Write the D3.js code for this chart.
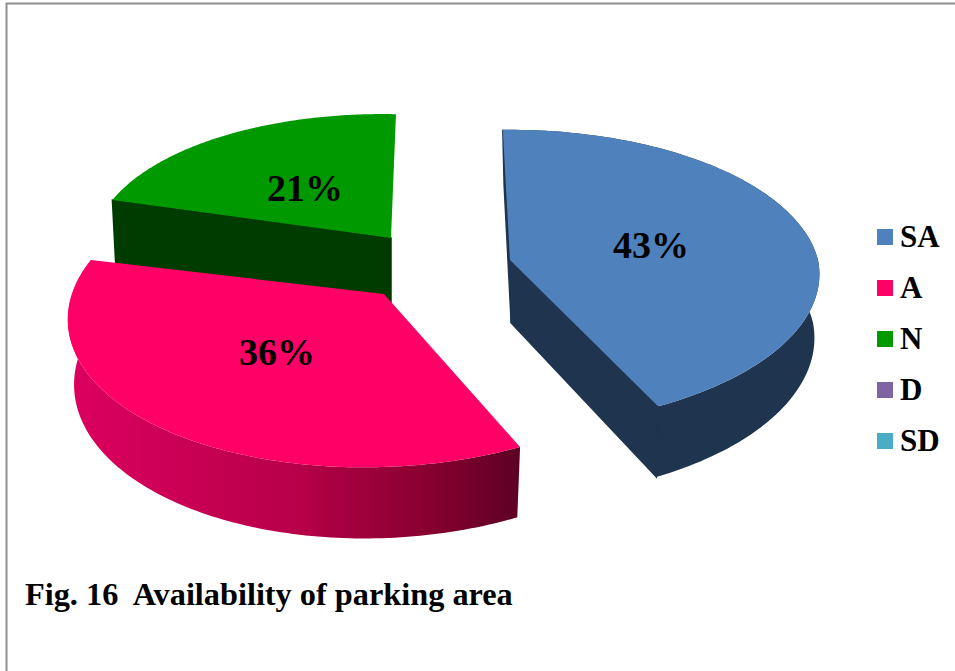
<!DOCTYPE html>
<html>
<head>
<meta charset="utf-8">
<script src="https://cdn.jsdelivr.net/npm/d3@7"></script>
<style>
html,body{margin:0;padding:0;background:#fff;}
svg{display:block;}
text{font-family:"Liberation Serif","Times New Roman",serif;font-weight:bold;fill:#000;white-space:pre;}
</style>
</head>
<body>
<svg id="chart" width="955" height="671"></svg>
<script>
// ---- data ----
const categories = ["SA", "A", "N", "D", "SD"];
const values = [43, 36, 21, 0, 0];
const title = "Fig. 16  Availability of parking area";

// ---- styles ----
const faceColors = ["#4f81bd", "#ff0066", "#009900", "#8064a2", "#4bacc6"];
const wallColors = ["#1f344f", "url(#redWall)", "#003b00", "#4c3c61", "#2d6776"];

// ---- per-slice projection of the tilted, exploded disc ----
const views = {
  SA: {cx: 510, cy: 260, rx: 308, b: 146, k: 0.1215, shF: 8,  shB: 0,  shy: 0,   d: 63, vx: 570, e: 0.02,  outer: true,  cuts: [0, 1], lx: 651, ly: 258},
  A:  {cx: 384, cy: 294, rx: 312, b: 156, k: 0.10,   shF: 20, shB: 20, shy: 0,   d: 64, vx: 380, e: 0.02,  outer: true,  cuts: [],     lx: 277, ly: 365},
  N:  {cx: 391, cy: 238, rx: 295, b: 136, k: 0.10,   shF: 12, shB: 12, shy: 8.5, d: 66, vx: 391, e: 0.012, outer: false, cuts: [0],    lx: 305, ly: 201}
};
const drawOrder = ["N", "SA", "A"];

const svg = d3.select("#chart");
const color = d3.scaleOrdinal(categories, faceColors);
const wall = d3.scaleOrdinal(categories, wallColors);
const fmt = v => v + "%";

// frame
svg.append("path").attr("d", "M6.5,671V3.5H955").attr("fill", "none")
   .attr("stroke", "#8e8e8e").attr("stroke-width", 2);

// wall gradient for the A slice
const grad = svg.append("defs").append("linearGradient").attr("id", "redWall")
   .attr("gradientUnits", "userSpaceOnUse").attr("x1", 70).attr("x2", 522).attr("y1", 0).attr("y2", 0);
[[0, "#dc0060"], [0.5, "#b70049"], [0.8, "#86002f"], [1, "#5c0024"]].forEach(s =>
  grad.append("stop").attr("offset", s[0]).attr("stop-color", s[1]));

const pie = d3.pie().sort(null).value(d => d.value)
  .startAngle(-1.5 * Math.PI / 180).endAngle(358.5 * Math.PI / 180);
const slices = pie(categories.map((name, i) => ({name, value: values[i]})));

function project(v, theta, r) {
  const X = r * Math.sin(theta), Y = r * Math.cos(theta);
  const p = 1 / (1 + v.k * Y);
  return {
    x: v.cx + v.rx * X * p + (Y < 0 ? v.shF : v.shB) * Y,
    y: v.cy - v.b * Y * p + v.shy * X,
    p
  };
}
function extrude(v, q) {
  return {x: q.x - (q.x - v.vx) * v.e, y: q.y + v.d * q.p, p: q.p};
}
const line = d3.line().x(d => d.x).y(d => d.y);
const closed = pts => line(pts) + "Z";

const marks = svg.append("g");
drawOrder.forEach(name => {
  const s = slices.find(d => d.data.name === name);
  const v = views[name];
  const arc = d3.range(0, 121).map(i => project(v, s.startAngle + (s.endAngle - s.startAngle) * i / 120, 1));
  const apex = project(v, 0, 0);
  const low = q => extrude(v, q);
  const g = marks.append("g").attr("class", "slice-" + name);
  const w = wall(name);

  // flat cut walls that face the viewer
  v.cuts.forEach(c => {
    const e = c === 0 ? arc[0] : arc[arc.length - 1];
    g.append("path")
     .attr("d", closed([apex, e, low(e), low(apex)]))
     .attr("fill", w).attr("stroke", w).attr("stroke-width", 1.5);
  });
  // curved outer wall
  if (v.outer) {
    g.append("path")
     .attr("d", closed(arc.concat(arc.map(low).reverse())))
     .attr("fill", w);
  }
  // top face
  g.append("path")
   .attr("d", closed([apex].concat(arc)))
   .attr("fill", color(name));
  // percentage label
  g.append("text").attr("x", v.lx).attr("y", v.ly).attr("text-anchor", "middle")
   .attr("font-size", 38).text(fmt(s.data.value));
});

// legend
const legendY = d3.scalePoint().domain(categories).range([247, 451]);
const legend = svg.append("g").selectAll("g").data(categories).join("g")
  .attr("transform", d => `translate(0,${legendY(d)})`);
legend.append("rect").attr("x", 877).attr("y", -18).attr("width", 16).attr("height", 16)
  .attr("fill", d => color(d));
legend.append("text").attr("x", 900).attr("y", 0).attr("font-size", 31).text(d => d);

// caption
svg.append("text").attr("x", 25).attr("y", 605).attr("font-size", 32.3).text(title);
</script>
</body>
</html>
